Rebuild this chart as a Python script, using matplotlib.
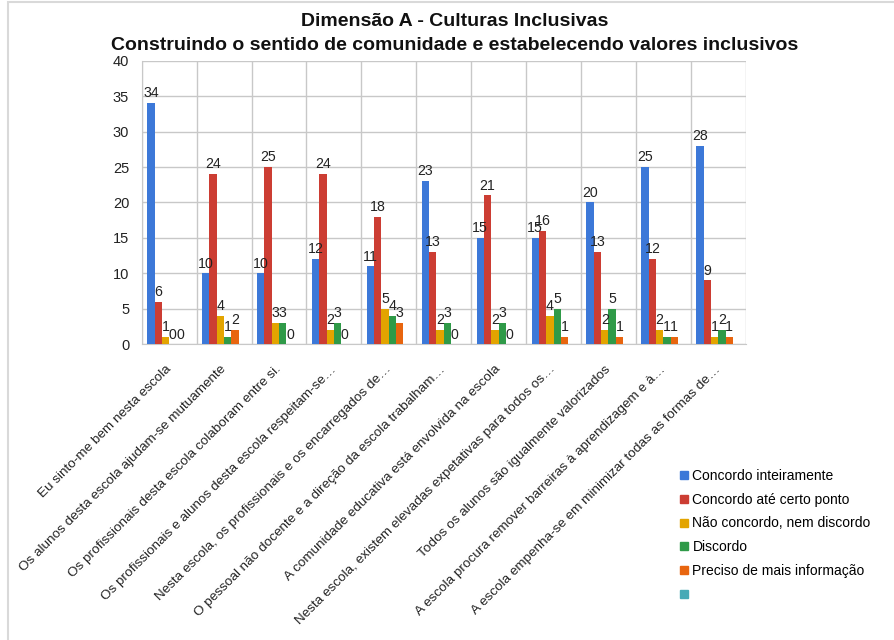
import matplotlib
matplotlib.use("Agg")
import matplotlib.pyplot as plt
from matplotlib.lines import Line2D
from matplotlib.patches import Rectangle
import matplotlib.transforms as mtransforms
import numpy as np

plt.rcParams['font.family'] = ['Liberation Sans', 'DejaVu Sans']

categories = [
    "Eu sinto-me bem nesta escola",
    "Os alunos desta escola ajudam-se mutuamente",
    "Os profissionais desta escola colaboram entre si.",
    "Os profissionais e alunos desta escola respeitam-se…",
    "Nesta escola, os profissionais e os encarregados de…",
    "O pessoal não docente e a direção da escola trabalham…",
    "A comunidade educativa está envolvida na escola",
    "Nesta escola, existem elevadas expetativas para todos os…",
    "Todos os alunos são igualmente valorizados",
    "A escola procura remover barreiras à aprendizagem e à…",
    "A escola empenha-se em minimizar todas as formas de…",
]
series_names = [
    "Concordo inteiramente",
    "Concordo até certo ponto",
    "Não concordo, nem discordo",
    "Discordo",
    "Preciso de mais informação",
    "",
]
concordo_inteiramente = [34, 10, 10, 12, 11, 23, 15, 15, 20, 25, 28]
concordo_ate_certo_ponto = [6, 24, 25, 24, 18, 13, 21, 16, 13, 12, 9]
nao_concordo_nem_discordo = [1, 4, 3, 2, 5, 2, 2, 4, 2, 2, 1]
discordo = [0, 1, 3, 3, 4, 3, 3, 5, 5, 1, 2]
preciso_informacao = [0, 2, 0, 0, 3, 0, 0, 1, 1, 1, 1]
sem_nome = [None] * 11

series_values = [concordo_inteiramente, concordo_ate_certo_ponto,
                 nao_concordo_nem_discordo, discordo, preciso_informacao, sem_nome]
colors = ["#3c78d8", "#cc3d33", "#e3a400", "#2f9a48", "#e8650f", "#46aab6"]
y_ticks = [0, 5, 10, 15, 20, 25, 30, 35, 40]

fig = plt.figure(figsize=(8.95, 6.4), dpi=100)
fig.patches.append(Rectangle((8 / 895, -0.1), 1.2, 1.1 - 2 / 640,
                             transform=fig.transFigure, fill=False,
                             edgecolor="#d9d9d9", linewidth=1.5, zorder=0))

ax = fig.add_axes([141.7 / 895, 1 - 344.3 / 640, 604 / 895, 283.6 / 640])

n_series = len(series_values)
total_w = 0.8
w = total_w / n_series
x = np.arange(len(categories))

for k, (vals, col, name) in enumerate(zip(series_values, colors, series_names)):
    offs = -total_w / 2 + w * (k + 0.5)
    if all(v is None for v in vals):
        continue
    ax.bar(x + offs, vals, width=w, color=col, zorder=3, linewidth=0)
    for xi, v in zip(x, vals):
        ax.annotate(str(v), (xi + offs, v), xytext=(0, 2), textcoords="offset points",
                    ha="center", va="bottom", fontsize=10.2, color="#222222", zorder=4)

ax.set_xlim(-0.5, len(categories) - 0.5)
ax.set_ylim(0, 40)
ax.set_yticks(y_ticks)
ax.yaxis.grid(True, color="#c8c8c8", linewidth=1, zorder=0)
for b in np.arange(-0.5, len(categories), 1.0):
    ax.axvline(b, color="#c8c8c8", linewidth=1, zorder=0)
ax.set_axisbelow(True)
ax.tick_params(axis="y", length=0, pad=9, labelsize=10.5, labelcolor="#222222")
ax.set_xticks([])
for s in ["top", "right"]:
    ax.spines[s].set_visible(False)
for s in ["left", "bottom"]:
    ax.spines[s].set_color("#c8c8c8")

offset = mtransforms.ScaledTranslation(-4 / 100, -19 / 100, fig.dpi_scale_trans)
trans = mtransforms.blended_transform_factory(ax.transData, ax.transAxes) + offset
for xi, lab in zip(x, categories):
    ax.text(xi, 0, lab, transform=trans, rotation=45, ha="right", va="top",
            rotation_mode="anchor", fontsize=9.7, color="#222222")

fig.text(0.508, 1 - 22 / 640, "Dimensão A - Culturas Inclusivas", ha="center", va="center",
         fontsize=14, fontweight="bold", color="#111111")
fig.text(0.508, 1 - 45 / 640,
         "Construindo o sentido de comunidade e estabelecendo valores inclusivos",
         ha="center", va="center", fontsize=14, fontweight="bold", color="#111111")

handles = [Line2D([], [], marker="s", linestyle="none", markersize=5.5,
                  markerfacecolor=c, markeredgecolor=c) for c in colors]
fig.legend(handles, [n if n else " " for n in series_names],
           loc="upper left", bbox_to_anchor=(673 / 895, 1 - 462 / 640),
           frameon=False, fontsize=10, handlelength=0.6, handletextpad=0.3,
           labelspacing=0.7, borderpad=0)

fig.savefig("out.png", dpi=100)
